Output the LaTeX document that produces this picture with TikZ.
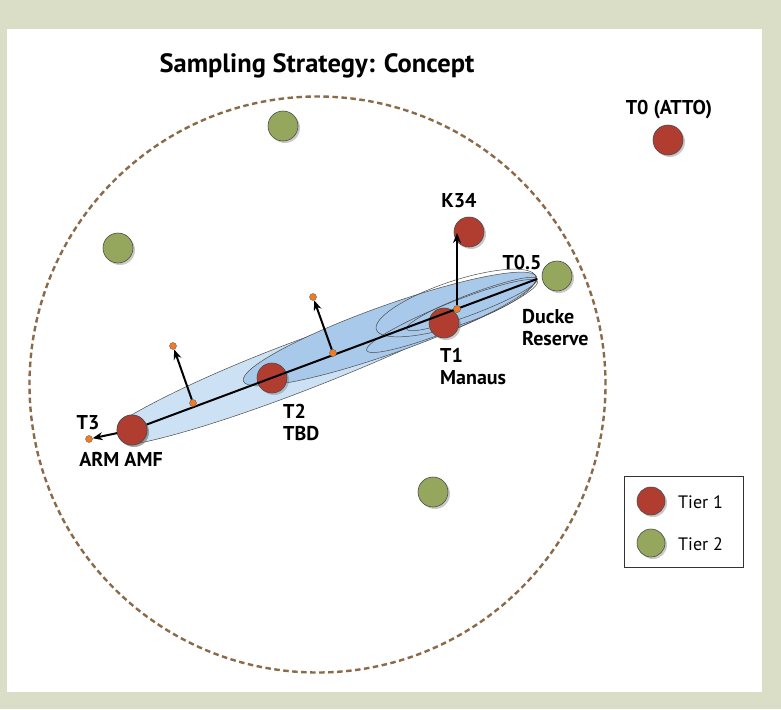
\documentclass[tikz,border=0pt]{standalone}
\usepackage{fontspec}
\setmainfont{PT Sans}
\usetikzlibrary{positioning,shadows,arrows.meta}

\definecolor{bggreen}{HTML}{DADEC6}
\definecolor{tierred}{HTML}{B13D31}
\definecolor{tiergreen}{HTML}{95A75C}
\definecolor{dashbrown}{HTML}{8A6A48}
\definecolor{lightblue}{HTML}{CDE1F4}
\definecolor{midblue}{HTML}{A9C9EA}
\definecolor{dotorange}{HTML}{F27B22}

\tikzset{
  site/.style={circle, draw=black!70, line width=0.6pt, minimum size=30pt, inner sep=0pt,
    drop shadow={shadow xshift=2pt, shadow yshift=-2pt, opacity=0.35, fill=black!60}},
  tierone/.style={site, fill=tierred},
  tiertwo/.style={site, fill=tiergreen},
  orangedot/.style={circle, fill=dotorange, draw=black!60, line width=0.4pt, minimum size=7pt, inner sep=0pt},
  lbl/.style={font=\bfseries\fontsize{20}{22.5}\selectfont, align=left, inner sep=0pt},
  arr/.style={line width=2pt, -{Stealth[length=10pt,width=8pt]}},
  cone/.style={draw=black!70, line width=0.5pt},
}

\begin{document}
\begin{tikzpicture}[x=1pt, y=-1pt]
% frame
\fill[bggreen] (0,0) rectangle (781,709);
\useasboundingbox (0,0) rectangle (781,709);
\fill[white] (7,29) rectangle (762,692);

\node[font=\bfseries\fontsize{26.5}{30}\selectfont] (title) at (317,66) {Sampling Strategy: Concept};

% sampling domain
\coordinate (ctr) at (317.5,384.5);
\draw[dashbrown, line width=2.4pt, dash pattern=on 5.5pt off 3.5pt] (ctr) circle [radius=288pt];

% footprints
\coordinate (tip) at (537,279);
\draw[cone, fill=lightblue] (tip) .. controls (450,280) and (230,357) .. (128,417)
  .. controls (112,428) and (124,447) .. (140,443)
  .. controls (250,420) and (470,328) .. (tip) -- cycle;
\begin{scope}[shift={(390,329)}, rotate=19.6]
  \draw[cone, fill=midblue] (0,0) ellipse [x radius=155.6pt, y radius=24pt];
\end{scope}
\begin{scope}[shift={(456,303)}, rotate=18.5]
  \draw[cone] (0,0) ellipse [x radius=84pt, y radius=22pt];
\end{scope}
\begin{scope}[shift={(452,316)}, rotate=22]
  \draw[cone] (0,0) ellipse [x radius=92pt, y radius=13pt];
\end{scope}
\begin{scope}[shift={(472,304)}, rotate=21]
  \draw[cone] (0,0) ellipse [x radius=70pt, y radius=10pt];
\end{scope}

% sites
\node[tierone] (t3) at (132,430) {};
\node[tierone] (t2) at (272,378) {};
\node[tierone] (t1) at (444,323) {};
\node[tierone] (k34) at (469,232) {};
\node[tierone] (t0) at (668,140) {};
\node[tiertwo] (g1) at (283,126) {};
\node[tiertwo] (g2) at (118,248) {};
\node[tiertwo] (t05) at (557,276) {};
\node[tiertwo] (g4) at (433,492) {};

% transect
\draw[line width=2pt] (tip) -- (t3);
\node[tierone] at (t3) {};

\node[orangedot] (d0) at (89,439) {};
\node[orangedot] (d1) at (193,403) {};
\node[orangedot] (d2) at (333,353) {};
\node[orangedot] (d3) at (457,309) {};
\node[orangedot] (e1) at (173,346) {};
\node[orangedot] (e2) at (313,297) {};
\coordinate (k34in) at (457,233);

\draw[arr] (t3) -- (d0);
\draw[arr] (d1) -- (e1);
\draw[arr] (d2) -- (e2);
\draw[arr] (d3) -- (k34in);
\node[orangedot] at (d3) {};

% labels
\node[lbl] (lt0) at (669,110) {T0 (ATTO)};
\node[lbl] (lk34) at (459,201) {K34};
\node[lbl] (lt05) at (522,262) {T0.5};
\node[lbl, anchor=north west] (lduck) at (522,309) {Ducke\\Reserve};
\node[lbl, anchor=north west] (lt1) at (440,348) {T1\\Manaus};
\node[lbl, anchor=north west] (lt2) at (283,404) {T2\\TBD};
\node[lbl] (lt3) at (88,423) {T3};
\node[lbl] (larm) at (121,459) {ARM AMF};

% legend
\draw[black!80, line width=0.8pt, fill=white] (624,476) rectangle (743,567);
\node[tierone, minimum size=28pt] (leg1) at (651,501) {};
\node[tiertwo, minimum size=28pt] (leg2) at (651,543) {};
\node[font=\fontsize{18}{21}\selectfont, anchor=west, inner sep=0pt] (legt1) at (678,502) {Tier 1};
\node[font=\fontsize{18}{21}\selectfont, anchor=west, inner sep=0pt] (legt2) at (678,544) {Tier 2};
\end{tikzpicture}
\end{document}
